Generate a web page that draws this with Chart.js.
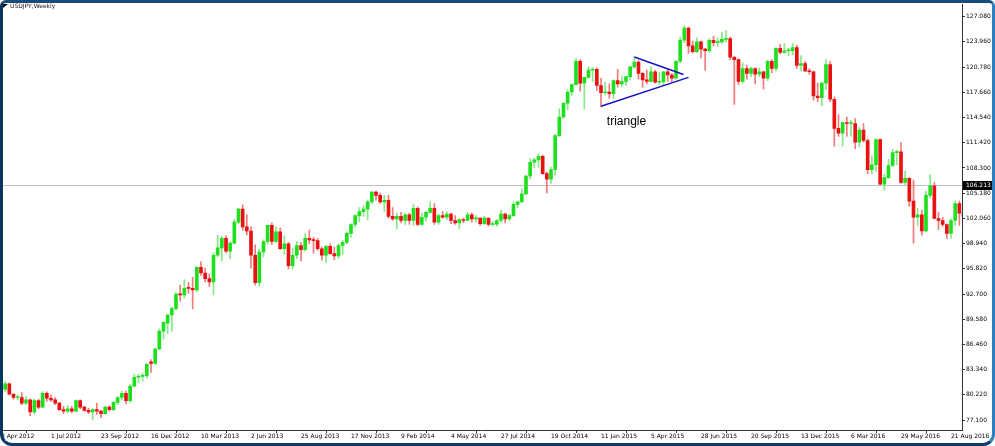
<!DOCTYPE html>
<html>
<head>
<meta charset="utf-8">
<title>USDJPY,Weekly</title>
<script src="https://cdn.jsdelivr.net/npm/chart.js@4.4.1/dist/chart.umd.min.js"></script>
<style>
    html, body { margin: 0; padding: 0; background: #fff; }
    #wrap { position: relative; width: 995px; height: 446px; overflow: hidden; }
    #chart { display: block; position: absolute; left: 0; top: 0; }
    #frame {
        position: absolute; left: 0; top: 0; width: 995px; height: 446px;
        box-sizing: border-box; pointer-events: none;
        border-style: solid; border-width: 3px;
        border-color: #174b7c #2d81c2 #0c3b69 #0a3460;
        border-radius: 6px 6px 12px 12px;
    }
</style>
</head>
<body>
<div id="wrap">
    <canvas id="chart" width="995" height="446"></canvas>
    <div id="frame"></div>
</div>
<script>
// Weekly candles, first bar = week of 8 Apr 2012
const opens = [
    81.60, 80.90, 81.60, 80.30, 79.90, 79.90, 79.20, 79.60, 78.10, 79.50,
    78.70, 80.40, 79.80, 79.60, 79.20, 78.40, 78.20, 78.50, 78.20, 79.50,
    78.70, 78.30, 78.10, 78.40, 78.20, 77.90, 78.70, 78.40, 79.30, 79.90,
    80.40, 79.50, 81.30, 82.40, 82.50, 82.60, 84.30, 84.10, 85.90, 88.10,
    89.10, 90.10, 90.90, 92.70, 92.60, 93.50, 93.40, 93.20, 96.00, 95.30,
    94.60, 94.20, 97.50, 98.40, 99.60, 98.00, 99.00, 101.60, 103.20, 101.00,
    100.50, 97.50, 94.10, 97.90, 99.20, 101.20, 99.20, 100.40, 98.30, 98.90,
    96.20, 97.50, 98.70, 98.20, 99.60, 99.40, 99.30, 98.30, 97.50, 98.60,
    97.70, 97.40, 98.70, 99.10, 100.20, 101.30, 102.40, 102.90, 103.20, 104.10,
    105.30, 104.90, 104.10, 104.30, 102.30, 102.00, 102.30, 101.80, 102.50, 101.80,
    103.30, 101.30, 102.20, 102.80, 103.30, 101.60, 102.40, 102.20, 102.60, 101.80,
    101.50, 101.90, 101.80, 102.50, 102.00, 102.10, 101.40, 102.10, 101.30, 101.35,
    101.80, 102.60, 102.00, 102.40, 103.80, 104.10, 105.10, 107.30, 109.00, 109.30,
    109.75, 107.60, 106.90, 108.10, 112.30, 114.60, 116.30, 117.70, 118.60, 121.50,
    118.80, 119.50, 120.40, 120.50, 118.50, 117.60, 117.70, 117.50, 119.10, 118.70,
    119.00, 119.60, 120.80, 121.40, 120.00, 119.20, 119.00, 120.20, 118.90, 118.95,
    120.20, 119.80, 119.40, 121.50, 124.10, 125.60, 123.40, 122.70, 123.90, 123.00,
    122.80, 124.10, 123.80, 123.90, 124.20, 124.30, 122.00, 121.70, 119.00, 120.60,
    120.00, 120.60, 119.90, 120.20, 119.40, 121.50, 120.60, 123.10, 122.60, 122.80,
    122.80, 123.20, 121.00, 121.20, 120.30, 120.20, 117.20, 117.00, 118.80, 121.10,
    116.80, 113.20, 112.60, 113.90, 113.80, 113.80, 111.50, 113.00, 111.70, 108.10,
    108.70, 111.80, 106.30, 107.10, 108.60, 110.20, 110.30, 106.50, 107.00, 104.20,
    102.20, 102.50, 100.50, 104.90, 106.10, 102.05, 101.80, 101.30, 100.20, 101.80,
    103.90, 102.70
];
const highs = [
    81.80, 81.90, 81.70, 80.40, 80.20, 80.50, 80.00, 79.70, 79.70, 79.70,
    80.60, 80.60, 80.20, 79.90, 79.30, 78.80, 78.90, 78.80, 79.60, 79.60,
    78.80, 78.60, 78.50, 79.20, 78.30, 78.80, 78.90, 79.40, 80.00, 80.70,
    80.70, 81.50, 82.80, 82.80, 82.90, 84.10, 84.60, 86.00, 88.40, 89.30,
    90.20, 91.10, 92.90, 93.80, 94.50, 94.10, 94.80, 96.10, 96.70, 95.90,
    95.20, 97.80, 99.95, 99.80, 99.90, 99.20, 101.90, 103.30, 103.74, 102.50,
    101.00, 98.80, 98.30, 99.40, 101.20, 101.50, 101.00, 100.90, 99.90, 99.10,
    98.40, 99.20, 99.10, 100.20, 100.60, 99.70, 99.60, 98.50, 98.70, 98.90,
    98.50, 98.90, 99.30, 100.40, 101.40, 102.50, 103.40, 103.60, 104.30, 105.40,
    105.44, 105.20, 104.90, 104.90, 103.40, 102.70, 102.80, 102.70, 102.70, 103.80,
    103.50, 102.70, 102.90, 104.13, 103.90, 102.60, 102.90, 102.90, 102.70, 102.40,
    102.00, 102.10, 102.80, 102.70, 102.40, 102.10, 102.30, 102.10, 101.70, 101.90,
    103.10, 102.70, 102.60, 104.10, 104.20, 105.70, 107.40, 109.45, 109.50, 110.09,
    109.90, 107.80, 108.40, 112.50, 115.60, 116.40, 118.00, 118.70, 121.85, 121.70,
    119.50, 120.80, 120.70, 120.70, 119.40, 118.90, 118.70, 119.20, 120.50, 119.60,
    119.60, 120.90, 122.03, 121.60, 120.10, 120.40, 120.80, 120.40, 120.10, 120.20,
    120.50, 120.00, 121.60, 124.50, 125.86, 125.70, 124.00, 124.40, 124.00, 123.10,
    124.30, 124.60, 124.40, 125.07, 125.30, 124.50, 122.10, 121.80, 121.30, 121.00,
    120.80, 120.70, 120.70, 120.30, 121.60, 121.70, 123.20, 123.60, 123.70, 123.10,
    123.70, 123.50, 122.20, 121.50, 120.60, 120.30, 118.80, 118.90, 121.70, 121.50,
    117.10, 114.90, 114.00, 114.60, 114.20, 114.40, 113.30, 113.80, 111.90, 109.80,
    111.90, 111.90, 107.50, 109.40, 110.60, 110.50, 111.45, 107.90, 107.10, 106.80,
    103.30, 103.10, 105.40, 107.49, 106.50, 102.80, 102.20, 101.40, 102.00, 104.20,
    104.20, 103.00
];
const lows = [
    80.30, 80.60, 80.20, 79.70, 79.60, 79.00, 79.00, 77.65, 77.90, 78.50,
    78.60, 79.40, 79.40, 79.00, 78.30, 77.90, 78.00, 78.00, 78.10, 78.50,
    78.20, 77.90, 77.13, 77.80, 77.40, 77.80, 78.20, 78.30, 79.00, 79.60,
    79.10, 79.30, 81.20, 81.70, 81.90, 82.30, 83.00, 84.00, 85.80, 87.10,
    87.80, 88.10, 90.70, 91.80, 92.20, 92.80, 90.85, 93.00, 95.00, 94.20,
    93.60, 92.60, 97.30, 96.80, 97.80, 97.10, 98.90, 101.40, 100.60, 100.00,
    95.90, 93.80, 93.70, 97.30, 98.90, 98.80, 99.10, 98.20, 97.60, 95.80,
    95.80, 97.10, 96.80, 98.00, 98.90, 97.75, 98.10, 96.90, 96.60, 97.60,
    96.95, 97.10, 97.60, 98.90, 99.70, 101.00, 101.60, 102.30, 101.90, 103.90,
    104.30, 103.90, 102.90, 102.10, 101.80, 100.75, 101.50, 101.30, 101.30, 101.20,
    101.20, 101.20, 101.70, 102.70, 101.30, 101.30, 102.10, 101.90, 101.40, 101.30,
    100.80, 101.50, 101.80, 101.60, 101.60, 101.20, 101.30, 101.10, 101.10, 101.10,
    101.60, 101.50, 101.80, 102.30, 103.40, 104.10, 105.00, 106.90, 108.30, 108.40,
    107.50, 105.20, 106.40, 107.40, 112.20, 114.40, 115.50, 117.30, 118.60, 117.80,
    115.60, 119.40, 119.00, 117.90, 115.86, 117.30, 116.90, 116.90, 118.30, 118.30,
    118.50, 119.20, 120.60, 119.30, 118.30, 118.70, 118.90, 118.80, 118.60, 118.50,
    119.00, 118.90, 119.30, 121.30, 123.80, 122.46, 122.50, 122.60, 121.90, 120.40,
    122.60, 123.40, 123.30, 123.70, 123.90, 121.70, 116.15, 118.60, 118.80, 119.30,
    119.60, 118.70, 119.60, 118.06, 119.10, 120.10, 120.30, 122.40, 122.50, 122.20,
    122.30, 120.60, 120.30, 120.20, 119.90, 116.70, 116.50, 115.97, 118.00, 116.50,
    110.99, 112.20, 111.00, 112.20, 112.20, 110.70, 110.90, 111.50, 107.60, 107.60,
    107.90, 106.20, 105.55, 107.00, 108.50, 108.70, 106.40, 106.20, 103.55, 99.00,
    101.20, 99.99, 100.40, 104.60, 102.00, 100.70, 101.10, 99.55, 99.60, 101.20,
    101.20, 101.50
];
const closes = [
    80.90, 81.60, 80.30, 79.90, 79.90, 79.20, 79.60, 78.10, 79.50, 78.70,
    80.40, 79.80, 79.60, 79.20, 78.40, 78.20, 78.50, 78.20, 79.50, 78.70,
    78.30, 78.10, 78.40, 78.20, 77.90, 78.70, 78.40, 79.30, 79.90, 80.40,
    79.50, 81.30, 82.40, 82.50, 82.60, 84.00, 84.10, 85.90, 88.10, 89.20,
    90.10, 90.90, 92.70, 92.60, 93.40, 93.40, 93.20, 96.00, 95.30, 94.60,
    94.20, 97.50, 98.40, 99.60, 98.00, 99.00, 101.60, 103.20, 101.00, 100.50,
    97.50, 94.10, 97.90, 99.20, 101.20, 99.20, 100.40, 98.30, 98.90, 96.20,
    97.50, 98.70, 98.20, 99.60, 99.40, 99.30, 98.30, 97.50, 98.60, 97.70,
    97.40, 98.70, 99.10, 100.20, 101.30, 102.40, 102.90, 103.20, 104.10, 105.30,
    104.90, 104.10, 104.30, 102.30, 102.00, 102.30, 101.80, 102.50, 101.80, 103.30,
    101.30, 102.20, 102.80, 103.30, 101.60, 102.40, 102.20, 102.60, 101.80, 101.50,
    101.90, 101.80, 102.50, 102.00, 102.10, 101.40, 102.10, 101.30, 101.35, 101.80,
    102.60, 102.00, 102.40, 103.80, 104.10, 105.10, 107.30, 109.00, 109.30, 109.75,
    107.60, 106.90, 108.10, 112.30, 114.60, 116.30, 117.70, 118.60, 121.50, 118.80,
    119.50, 120.40, 120.50, 118.50, 117.60, 117.70, 117.50, 119.10, 118.70, 119.00,
    119.60, 120.80, 121.40, 120.00, 119.20, 119.00, 120.20, 118.90, 118.95, 120.20,
    119.80, 119.40, 121.50, 124.10, 125.60, 123.40, 122.70, 123.90, 123.00, 122.80,
    124.10, 123.80, 123.90, 124.20, 124.30, 122.00, 121.70, 119.00, 120.60, 120.00,
    120.60, 119.90, 120.20, 119.40, 121.50, 120.60, 123.10, 122.60, 122.80, 122.80,
    123.20, 121.00, 121.20, 120.30, 120.20, 117.20, 117.00, 118.80, 121.10, 116.80,
    113.20, 112.60, 113.90, 113.80, 113.85, 111.50, 113.00, 111.70, 108.10, 108.70,
    111.80, 106.30, 107.10, 108.60, 110.20, 110.30, 106.50, 107.00, 104.20, 102.20,
    102.50, 100.50, 104.90, 106.10, 102.05, 101.80, 101.30, 100.20, 101.80, 103.90,
    102.70, 102.30
];

// Axis labels
const dateTickIdx = [0, 12, 24, 36, 48, 60, 72, 84, 96, 108, 120, 132, 144, 156, 168, 180, 192, 204, 216, 228];
const dateLabels = ['8 Apr 2012', '1 Jul 2012', '23 Sep 2012', '16 Dec 2012', '10 Mar 2013', '2 Jun 2013',
    '25 Aug 2013', '17 Nov 2013', '9 Feb 2014', '4 May 2014', '27 Jul 2014', '19 Oct 2014', '11 Jan 2015',
    '5 Apr 2015', '28 Jun 2015', '20 Sep 2015', '13 Dec 2015', '6 Mar 2016', '29 May 2016', '21 Aug 2016'];
const priceTicks = [77.100, 80.220, 83.340, 86.460, 89.580, 92.700, 95.820, 98.940, 102.060, 105.180,
    108.300, 111.420, 114.540, 117.660, 120.780, 123.960, 127.080];

// Annotations (bar index, price)
const markerPrice = 106.213;
const triUpperX = [152, 163.8];
const triUpperY = [122.02, 119.86];
const triLowerX = [144, 165];
const triLowerY = [115.94, 119.51];
const triLabel = { text: 'triangle', x: 145.4, y: 114.07 };
const chartTitle = 'USDJPY,Weekly';

// Colors
const bullBody = '#1ee01e';
const bearBody = '#e81212';
const bullWick = '#86e886';
const bearWick = '#f27a7a';
const smallFont = { family: '"DejaVu Sans", sans-serif', size: 6 };

const idx = opens.map((_, i) => i);
const isBull = idx.map(i => closes[i] >= opens[i]);

// Extra drawing: marker line, price box, title, triangle label
const overlayPlugin = {
    id: 'overlay',
    beforeDatasetsDraw(chart) {
        const { ctx, chartArea, scales } = chart;
        const y = Math.round(scales.y.getPixelForValue(markerPrice)) + 0.5;
        ctx.save();
        ctx.strokeStyle = '#c2c2c2';
        ctx.lineWidth = 1;
        ctx.beginPath();
        ctx.moveTo(chartArea.left, y);
        ctx.lineTo(chartArea.right, y);
        ctx.stroke();
        ctx.restore();
    },
    afterDraw(chart) {
        const { ctx, chartArea, scales } = chart;
        const y = Math.round(scales.y.getPixelForValue(markerPrice));
        ctx.save();
        ctx.fillStyle = '#000';
        ctx.fillRect(chartArea.right + 1, y - 4, 30, 9);
        ctx.fillStyle = '#fff';
        ctx.font = '6px "DejaVu Sans", sans-serif';
        ctx.textBaseline = 'middle';
        ctx.textAlign = 'left';
        ctx.fillText(markerPrice.toFixed(3), chartArea.right + 4, y + 0.5);

        // title with small arrow
        ctx.fillStyle = '#000';
        ctx.beginPath();
        ctx.moveTo(3, 4);
        ctx.lineTo(8, 4);
        ctx.lineTo(3, 8);
        ctx.closePath();
        ctx.fill();
        ctx.fillStyle = '#1a1a1a';
        ctx.fillText(chartTitle, 10, 6.5);

        // triangle label
        ctx.fillStyle = '#000';
        ctx.font = '12px "Liberation Sans", Arial, sans-serif';
        ctx.fillText(triLabel.text, scales.x.getPixelForValue(triLabel.x), scales.y.getPixelForValue(triLabel.y));
        ctx.restore();
    }
};

const ctx = document.getElementById('chart').getContext('2d');
const chart = new Chart(ctx, {
    type: 'bar',
    data: {
        datasets: [
            {
                label: 'wick',
                data: idx.map(i => ({ x: i, y: [lows[i], highs[i]] })),
                backgroundColor: idx.map(i => isBull[i] ? bullWick : bearWick),
                barThickness: 1,
                grouped: false,
                borderWidth: 0,
                order: 3
            },
            {
                label: 'body',
                data: idx.map(i => ({ x: i, y: [opens[i], closes[i]] })),
                backgroundColor: idx.map(i => isBull[i] ? bullBody : bearBody),
                barThickness: 3,
                minBarLength: 1,
                grouped: false,
                borderWidth: 0,
                order: 2
            },
            {
                type: 'line',
                label: 'upper',
                data: triUpperX.map((x, k) => ({ x: x, y: triUpperY[k] })),
                borderColor: '#1414c8',
                borderWidth: 1.5,
                pointRadius: 0,
                order: 1
            },
            {
                type: 'line',
                label: 'lower',
                data: triLowerX.map((x, k) => ({ x: x, y: triLowerY[k] })),
                borderColor: '#1414c8',
                borderWidth: 1.5,
                pointRadius: 0,
                order: 1
            }
        ]
    },
    options: {
        responsive: false,
        animation: false,
        layout: { padding: 0 },
        plugins: {
            legend: { display: false },
            tooltip: { enabled: false }
        },
        scales: {
            x: {
                type: 'linear',
                position: 'bottom',
                offset: false,
                min: -0.24,
                max: 230.64,
                afterFit: (scale) => { scale.height = 16; },
                afterBuildTicks: (scale) => {
                    scale.ticks = dateTickIdx.map(v => ({ value: v }));
                },
                grid: {
                    drawOnChartArea: false,
                    drawTicks: true,
                    tickLength: 3,
                    color: '#333'
                },
                border: { display: true, color: '#333' },
                ticks: {
                    autoSkip: false,
                    maxRotation: 0,
                    minRotation: 0,
                    align: 'start',
                    padding: 0,
                    color: '#000',
                    font: smallFont,
                    callback: (value, index) => dateLabels[index]
                }
            },
            y: {
                type: 'linear',
                position: 'right',
                min: 75.874,
                max: 128.512,
                afterFit: (scale) => { scale.width = 33; },
                afterBuildTicks: (scale) => {
                    scale.ticks = priceTicks.map(v => ({ value: v }));
                },
                grid: {
                    drawOnChartArea: false,
                    drawTicks: true,
                    tickLength: 3,
                    color: '#333'
                },
                border: { display: true, color: '#333' },
                ticks: {
                    padding: 1,
                    color: '#000',
                    font: smallFont,
                    callback: (value) => Number(value).toFixed(3)
                }
            }
        }
    },
    plugins: [overlayPlugin]
});
</script>
</body>
</html>
